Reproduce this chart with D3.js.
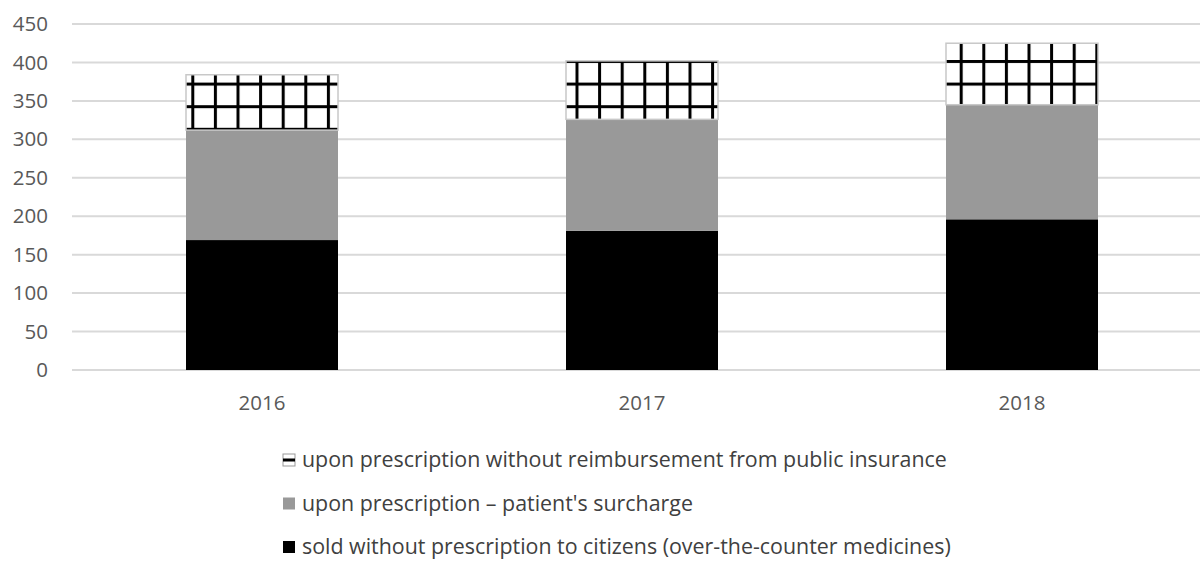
<!DOCTYPE html>
<html><head><meta charset="utf-8">
<script src="https://cdn.jsdelivr.net/npm/d3@7"></script>
<style>body{margin:0;background:#fff}svg{display:block}</style>
</head><body>
<svg id="c" width="1200" height="562"></svg>
<script>
const years = ["2016", "2017", "2018"];
const otc = [169, 181, 196];
const surcharge = [143, 145, 149];
const noReimb = [72, 76, 80];
const yTicks = [0, 50, 100, 150, 200, 250, 300, 350, 400, 450];
const seriesNames = [
  "upon prescription without reimbursement from public insurance",
  "upon prescription \u2013 patient's surcharge",
  "sold without prescription to citizens (over-the-counter medicines)"
];

const FONT = "'Open Sans', sans-serif";
const svg = d3.select("#c");
const defs = svg.append("defs");
const P = 22.6;
const pat = defs.append("pattern").attr("id", "grid").attr("patternUnits", "userSpaceOnUse")
  .attr("width", P).attr("height", P).attr("x", 10.5).attr("y", 61.5 - 1.5);
pat.append("rect").attr("width", P).attr("height", P).attr("fill", "#fff");
pat.append("rect").attr("x", 0).attr("y", 0).attr("width", 3).attr("height", P).attr("fill", "#000");
pat.append("rect").attr("x", 0).attr("y", 0).attr("width", P).attr("height", 3).attr("fill", "#000");

const x = d3.scaleBand().domain(years).range([72, 1212]).paddingInner(0.6).paddingOuter(0.3);
const y = d3.scaleLinear().domain([0, 450]).range([370, 24]);

// gridlines
svg.append("g").selectAll("line").data(yTicks).join("line")
  .attr("x1", 72).attr("x2", 1200)
  .attr("y1", d => y(d)).attr("y2", d => y(d))
  .attr("stroke", "#d9d9d9").attr("stroke-width", 2);

// y axis labels
const yAxis = d3.axisLeft(y).tickValues(yTicks).tickSize(0).tickPadding(0);
const gy = svg.append("g").attr("transform", "translate(48,0)").call(yAxis);
gy.select(".domain").remove();
gy.selectAll("text").attr("font-family", FONT).attr("font-size", 20.5).attr("fill", "#595959");

// x axis labels
const xAxis = d3.axisBottom(x).tickSize(0).tickPadding(0);
const gx = svg.append("g").attr("transform", "translate(0,395)").call(xAxis);
gx.select(".domain").remove();
gx.selectAll("text").attr("font-family", FONT).attr("font-size", 20.5).attr("fill", "#595959");

const data = years.map((yr, i) => ({yr, otc: otc[i], sur: surcharge[i], nr: noReimb[i]}));
const stack = d3.stack().keys(["otc", "sur", "nr"])(data);
const fills = {otc: "#000000", sur: "#999999", nr: "url(#grid)"};

stack.forEach(layer => {
  svg.append("g").selectAll("rect").data(layer).join("rect")
    .attr("x", d => x(d.data.yr))
    .attr("width", x.bandwidth())
    .attr("y", d => y(d[1]))
    .attr("height", d => y(d[0]) - y(d[1]))
    .attr("fill", fills[layer.key])
    .attr("stroke", layer.key === "nr" ? "#c8c8c8" : "none")
    .attr("stroke-width", layer.key === "nr" ? 1.5 : 0);
});

// legend
const legendKeys = ["nr", "sur", "otc"];
const lg = svg.append("g");
legendKeys.forEach((k, i) => {
  const ly = 460 + i * 43.5;
  const g = lg.append("g");
  if (k === "nr") {
    g.append("rect").attr("x", 283).attr("y", ly - 6).attr("width", 12).attr("height", 12)
      .attr("fill", "#fff").attr("stroke", "#999").attr("stroke-width", 1);
    g.append("rect").attr("x", 283).attr("y", ly - 1.5).attr("width", 12).attr("height", 3).attr("fill", "#000");
  } else {
    g.append("rect").attr("x", 283).attr("y", ly - 6).attr("width", 12).attr("height", 12)
      .attr("fill", fills[k]);
  }
  g.append("text").attr("x", 302).attr("y", ly).attr("dy", "0.33em")
    .attr("font-family", FONT).attr("font-size", 21.4)
    .attr("fill", "#404040").text(seriesNames[i]);
});
</script>
</body></html>
